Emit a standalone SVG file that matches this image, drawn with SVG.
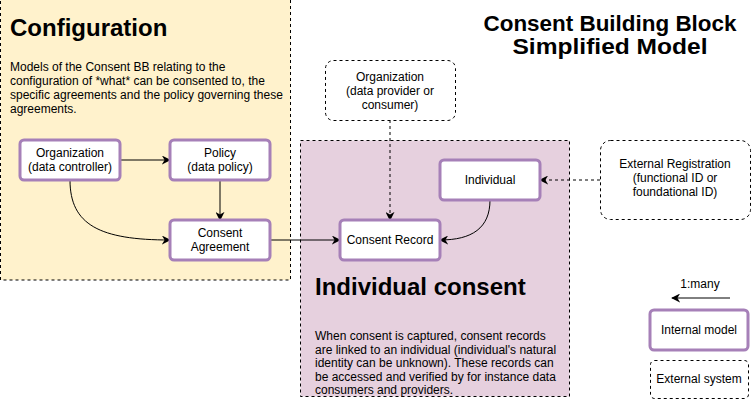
<svg xmlns="http://www.w3.org/2000/svg" width="752" height="401" viewBox="0 0 752 401">
<defs>
<marker id="arr" viewBox="0 0 10 10" refX="9" refY="5" markerWidth="9" markerHeight="9" markerUnits="userSpaceOnUse" orient="auto">
<path d="M0,0 L10,5 L0,10 L3,5 Z" fill="#000"/>
</marker>
<style>
text{font-family:"Liberation Sans",Arial,Helvetica,sans-serif;fill:#000}
.lbl{font-size:12px;text-anchor:middle}
.para{font-size:12px}
.big{font-size:24px;font-weight:bold}
.title{font-size:22.5px;font-weight:bold;text-anchor:middle}
.internal{fill:#fff;stroke:#a680b8;stroke-width:3}
.external{fill:#fff;stroke:#000;stroke-width:1;stroke-dasharray:3 3}
.area{stroke:#000;stroke-width:1;stroke-dasharray:3 3}
.c{fill:none;stroke:#000;stroke-width:1;marker-end:url(#arr)}
.d{stroke-dasharray:3 3}
</style>
</defs>
<rect width="752" height="401" fill="#fff"/>

<g id="configuration">
<rect class="area" x="0.5" y="-10" width="290" height="290" fill="#fff2cc"/>
<text class="big" x="10" y="36">Configuration</text>
<text class="para" x="10" y="71">Models of the Consent BB relating to the</text>
<text class="para" x="10" y="85">configuration of *what* can be consented to, the</text>
<text class="para" x="10" y="99">specific agreements and the policy governing these</text>
<text class="para" x="10" y="113">agreements.</text>
</g>

<g id="individual-consent">
<rect class="area" x="300.5" y="140.5" width="269" height="256" fill="#e6d0de"/>
<text class="big" x="315" y="295">Individual consent</text>
<text class="para" x="315" y="340">When consent is captured, consent records</text>
<text class="para" x="315" y="353.5">are linked to an individual (individual's natural</text>
<text class="para" x="315" y="367">identity can be unknown). These records can</text>
<text class="para" x="315" y="380.5">be accessed and verified by for instance data</text>
<text class="para" x="315" y="394">consumers and providers.</text>
</g>

<g id="title">
<text class="title" x="610" y="31" textLength="253" lengthAdjust="spacingAndGlyphs">Consent Building Block</text>
<text class="title" x="610" y="54" textLength="195" lengthAdjust="spacingAndGlyphs">Simplified Model</text>
</g>

<g id="connectors">
<path class="c" d="M120,160 L170,160"/>
<path class="c" d="M220,180 L220,220"/>
<path class="c" d="M70,180 C70,225 100,240 170,240"/>
<path class="c" d="M270,240 L340,240"/>
<path class="c d" d="M390,120 L390,220"/>
<path class="c" d="M490,200 C490,228 472,240 440,240"/>
<path class="c d" d="M600,180 L540,180"/>
<path class="c" d="M730,298 L672,298"/>
</g>

<g id="org-controller">
<rect class="internal" x="20" y="140" width="100" height="40" rx="4"/>
<text class="lbl" x="70" y="157">Organization</text>
<text class="lbl" x="70" y="171">(data controller)</text>
</g>
<g id="policy">
<rect class="internal" x="170" y="140" width="100" height="40" rx="4"/>
<text class="lbl" x="220" y="157">Policy</text>
<text class="lbl" x="220" y="171">(data policy)</text>
</g>
<g id="consent-agreement">
<rect class="internal" x="170" y="220" width="100" height="40" rx="4"/>
<text class="lbl" x="220" y="237">Consent</text>
<text class="lbl" x="220" y="251">Agreement</text>
</g>
<g id="org-provider">
<rect class="external" x="325.5" y="60.5" width="130" height="60" rx="8"/>
<text class="lbl" x="390" y="81">Organization</text>
<text class="lbl" x="390" y="95">(data provider or</text>
<text class="lbl" x="390" y="109">consumer)</text>
</g>
<g id="individual">
<rect class="internal" x="440" y="160" width="100" height="40" rx="4"/>
<text class="lbl" x="490" y="184">Individual</text>
</g>
<g id="consent-record">
<rect class="internal" x="340" y="220" width="100" height="40" rx="4"/>
<text class="lbl" x="390" y="244">Consent Record</text>
</g>
<g id="external-registration">
<rect class="external" x="600.5" y="140.5" width="150" height="79" rx="10"/>
<text class="lbl" x="675" y="168">External Registration</text>
<text class="lbl" x="675" y="182">(functional ID or</text>
<text class="lbl" x="675" y="196">foundational ID)</text>
</g>

<g id="legend">
<text class="lbl" x="700" y="288">1:many</text>
<rect class="internal" x="650" y="310" width="98" height="40" rx="4"/>
<text class="lbl" x="699" y="334">Internal model</text>
<rect class="external" x="650.5" y="360.5" width="98" height="38" rx="4"/>
<text class="lbl" x="699" y="383">External system</text>
</g>
</svg>
